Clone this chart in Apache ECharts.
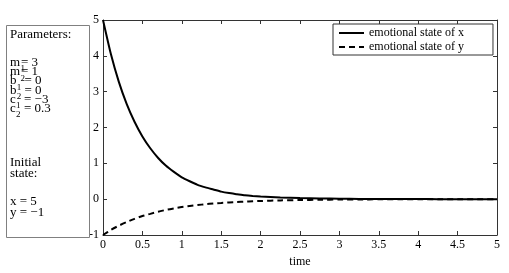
<!DOCTYPE html>
<html>
<head>
<meta charset="utf-8">
<script src="https://cdn.jsdelivr.net/npm/echarts@6/dist/echarts.min.js"></script>
<style>html,body{margin:0;padding:0;background:#fff;}#c{width:509px;height:273px;}</style>
</head>
<body>
<div id="c"></div>
<script>
// ---- data ----
var times = [0,0.1,0.2,0.3,0.4,0.5,0.6,0.7,0.8,0.9,1.0,1.1,1.2,1.3,1.4,1.5,1.6,1.7,1.8,1.9,2.0,2.25,2.5,2.75,3.0,3.25,3.5,3.75,4.0,4.25,4.5,4.75,5.0];
var stateX = [5.00,4.05,3.28,2.66,2.16,1.75,1.42,1.15,0.93,0.76,0.61,0.50,0.40,0.33,0.27,0.21,0.17,0.14,0.11,0.09,0.075,0.045,0.03,0.02,0.012,0.008,0.005,0.003,0.002,0.001,0.001,0,0];
var stateY = [-1,-0.86,-0.74,-0.64,-0.55,-0.47,-0.41,-0.35,-0.30,-0.26,-0.22,-0.19,-0.165,-0.14,-0.12,-0.105,-0.09,-0.078,-0.067,-0.058,-0.05,-0.034,-0.024,-0.016,-0.011,-0.008,-0.005,-0.004,-0.0025,-0.002,-0.001,-0.0005,0];
var seriesNames = ['emotional state of x','emotional state of y'];
var xTicks = [0,0.5,1,1.5,2,2.5,3,3.5,4,4.5,5];
var yTicks = [-1,0,1,2,3,4,5];
var paramNames = ['m','m','b','b','c','c'];
var paramSubs = ['1','2','1','2','1','2'];
var paramVals = ['= 3','= 1','= 0','= 0','= \u22123','= 0.3'];
var initLines = ['x = 5','y = \u22121'];

var FONT = "'Liberation Serif','Times New Roman',serif";
function pairs(t, v){ return t.map(function(x,i){ return [x, v[i]]; }); }

var chart = echarts.init(document.getElementById('c'), null, {renderer:'canvas'});

var graphics = [];
var BF = '13px '+FONT;
graphics.push({type:'rect', shape:{x:6.5,y:25.5,width:83,height:212}, style:{fill:'#fff',stroke:'#808080',lineWidth:1}, z:10});
graphics.push({type:'text', x:10, y:35, style:{text:'Parameters:', font:BF, fill:'#000', verticalAlign:'middle'}, z:11});
var eqX = {m:21, b:24.5, c:24};
var nameW = {m:10.1, b:6.5, c:5.8};
for (var i=0;i<paramNames.length;i++){
  var yy = 62.5 + i*9.2;
  var n = paramNames[i];
  graphics.push({type:'text', x:10, y:yy, style:{text:n, font:BF, fill:'#000', verticalAlign:'middle'}, z:11});
  graphics.push({type:'text', x:10+nameW[n]+0.3, y:yy+6.5, style:{text:paramSubs[i], font:'9px '+FONT, fill:'#000', verticalAlign:'middle'}, z:11});
  graphics.push({type:'text', x:eqX[n], y:yy, style:{text:paramVals[i], font:BF, fill:'#000', verticalAlign:'middle'}, z:11});
}
graphics.push({type:'text', x:10, y:163, style:{text:'Initial', font:BF, fill:'#000', verticalAlign:'middle'}, z:11});
graphics.push({type:'text', x:10, y:174, style:{text:'state:', font:BF, fill:'#000', verticalAlign:'middle'}, z:11});
for (var j=0;j<initLines.length;j++){
  graphics.push({type:'text', x:10, y:202+j*10.5, style:{text:initLines[j], font:BF, fill:'#000', verticalAlign:'middle'}, z:11});
}

var axisLabelStyle = {color:'#000', fontFamily:FONT, fontSize:12};
chart.setOption({
  backgroundColor:'#fff',
  animation:false,
  textStyle:{fontFamily:FONT},
  grid:{left:103, right:12, top:20, bottom:32, containLabel:false},
  legend:{
    orient:'vertical', left:333, top:24,
    itemWidth:25, itemHeight:12, itemGap:2,
    padding:[3,29,2,5],
    backgroundColor:'#fff', borderColor:'#333', borderWidth:1,
    itemStyle:{opacity:0},
    textStyle:{color:'#000', fontFamily:FONT, fontSize:12},
    data:seriesNames
  },
  xAxis:[
    {type:'value', position:'bottom', min:xTicks[0], max:xTicks[xTicks.length-1], interval:0.5,
     name:'time', nameLocation:'middle', nameGap:21, nameTextStyle:{color:'#000', fontFamily:FONT, fontSize:12},
     axisLine:{show:true, onZero:false, lineStyle:{color:'#333', width:1}},
     axisTick:{show:true, inside:true, length:4, lineStyle:{color:'#333'}},
     axisLabel:Object.assign({margin:4}, axisLabelStyle),
     splitLine:{show:false}},
    {type:'value', position:'top', min:0, max:5, interval:0.5,
     axisLine:{show:true, onZero:false, lineStyle:{color:'#333', width:1}},
     axisTick:{show:true, inside:true, length:4, lineStyle:{color:'#333'}},
     axisLabel:{show:false}, splitLine:{show:false}}
  ],
  yAxis:[
    {type:'value', position:'left', min:yTicks[0], max:yTicks[yTicks.length-1], interval:1,
     axisLine:{show:true, onZero:false, lineStyle:{color:'#333', width:1}},
     axisTick:{show:true, inside:true, length:4, lineStyle:{color:'#333'}},
     axisLabel:Object.assign({margin:4}, axisLabelStyle),
     splitLine:{show:false}},
    {type:'value', position:'right', min:-1, max:5, interval:1,
     axisLine:{show:true, onZero:false, lineStyle:{color:'#333', width:1}},
     axisTick:{show:true, inside:true, length:4, lineStyle:{color:'#333'}},
     axisLabel:{show:false}, splitLine:{show:false}}
  ],
  series:[
    {name:seriesNames[0], type:'line', data:pairs(times,stateX), symbol:'none', smooth:0.2,
     lineStyle:{color:'#000', width:2, type:'solid'}, itemStyle:{color:'#000'}, z:3},
    {name:seriesNames[1], type:'line', data:pairs(times,stateY), symbol:'none', smooth:0.2,
     lineStyle:{color:'#000', width:2, type:[6,4]}, itemStyle:{color:'#000'}, z:2}
  ],
  graphic:graphics
});
</script>
</body>
</html>
